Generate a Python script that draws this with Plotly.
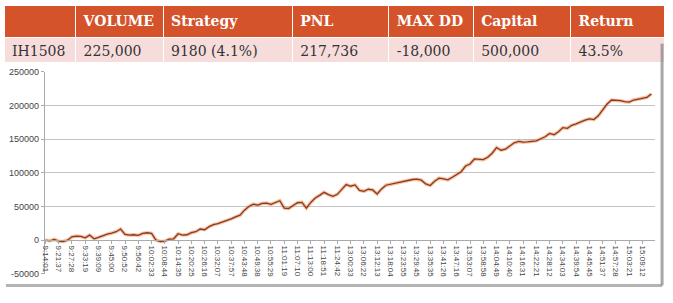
import plotly.graph_objects as go

# ---- table data ----
header_labels = ["", "VOLUME", "Strategy", "PNL", "MAX\u00a0DD", "Capital", "Return"]
row_values = ["IH1508", "225,000", "9180 (4.1%)", "217,736", "-18,000", "500,000", "43.5%"]

# ---- chart data ----
time_labels = [
    "9:14:01", "9:21:37", "9:27:28", "9:33:19", "9:39:09", "9:45:00", "9:50:52", "9:56:42",
    "10:02:33", "10:08:44", "10:14:35", "10:20:25", "10:26:16", "10:32:07", "10:37:57",
    "10:43:48", "10:49:38", "10:55:29", "11:01:19", "11:07:10", "11:13:00", "11:18:51",
    "11:24:42", "13:00:33", "13:06:22", "13:12:13", "13:18:04", "13:23:55", "13:29:45",
    "13:35:35", "13:41:26", "13:47:16", "13:53:07", "13:58:58", "14:04:49", "14:10:40",
    "14:16:31", "14:22:21", "14:28:12", "14:34:03", "14:39:54", "14:45:45", "14:51:37",
    "14:57:28", "15:03:21", "15:09:12",
]

# cumulative PNL, three samples per labelled interval
pnl = [
    0, -1000, 1000, -1500, -2000, 0, 5000, 6000, 5500, 3500,
    7500, 2000, 4000, 7000, 9000, 10500, 12500, 16500, 8500, 7500,
    8000, 7000, 10000, 11000, 10000, 0, -2000, -1500, 1500, 2000,
    9500, 7500, 8000, 11000, 12500, 16500, 15500, 20000, 23000, 24500,
    26500, 29500, 31500, 34500, 37000, 44500, 50000, 53500, 52000, 54500,
    55000, 53000, 56000, 58500, 47500, 47000, 51500, 55500, 56000, 47500,
    56000, 62500, 66500, 71000, 67500, 65000, 68000, 75500, 82500, 80000,
    82000, 74000, 72500, 75500, 74500, 68500, 76000, 81500, 83000, 84500,
    86500, 87500, 88500, 90000, 90500, 89000, 83500, 81000, 87500, 92000,
    91000, 89500, 93300, 97000, 101500, 110000, 113000, 120500, 120000, 119500,
    123000, 129000, 137500, 133500, 135000, 140000, 144500, 146500, 145500, 146000,
    146500, 147500, 150500, 153500, 158500, 156500, 161000, 167000, 166000, 170500,
    172500, 175500, 178000, 180000, 179000, 184500, 193000, 202000, 208000, 208000,
    207000, 205500, 205000, 208000, 209500, 210500, 212000, 217000,
]

y_tick_vals = [-50000, 0, 50000, 100000, 150000, 200000, 250000]
y_tick_text = ["-50000", "0", "50000", "100000", "150000", "200000", "250000"]

W, H = 673, 303
def px_x(x):
    return x / W
def px_y(y):
    return 1 - y / H

fig = go.Figure()

fig.add_trace(go.Table(
    domain=dict(x=[0, px_x(664)], y=[px_y(64), 1]),
    columnwidth=[72, 88, 130, 97, 85, 98, 94],
    header=dict(
        values=[f"<b>{h}</b>" if h else "" for h in header_labels],
        fill_color="#D4532A",
        line=dict(color="white", width=1),
        align="left",
        height=26,
        font=dict(family="DejaVu Serif", size=14, color="white"),
    ),
    cells=dict(
        values=[[v] for v in row_values],
        fill_color="#F7DCDC",
        line=dict(color="white", width=1),
        align="left",
        height=25,
        font=dict(family="DejaVu Serif", size=14, color="#333333"),
    ),
))

# halo
fig.add_trace(go.Scatter(
    y=pnl, x0=0, dx=1 / 3, mode="lines",
    line=dict(color="rgba(240,130,70,0.5)", width=3.5),
    hoverinfo="skip", showlegend=False,
))
# core line
fig.add_trace(go.Scatter(
    y=pnl, x0=0, dx=1 / 3, mode="lines",
    line=dict(color="#8A3A1C", width=1.3),
    showlegend=False,
))

fig.update_layout(
    width=W, height=H,
    margin=dict(l=0, r=0, t=0, b=0),
    paper_bgcolor="white",
    plot_bgcolor="white",
    xaxis=dict(
        domain=[px_x(41), px_x(655)],
        range=[-0.05, 45.95],
        anchor="free",
        position=px_y(243),
        tickmode="array",
        tickvals=list(range(len(time_labels))),
        ticktext=time_labels,
        tickangle=90,
        tickfont=dict(family="Liberation Sans", size=8, color="#444444"),
        showgrid=False,
        showline=True,
        linecolor="#AAAAAA",
        linewidth=1,
        ticks="outside",
        ticklen=3,
        tickcolor="#AAAAAA",
        zeroline=False,
    ),
    yaxis=dict(
        domain=[px_y(278), px_y(69)],
        range=[-50000, 250000],
        tickmode="array",
        tickvals=y_tick_vals,
        ticktext=y_tick_text,
        tickfont=dict(family="Liberation Sans", size=9, color="#444444"),
        showgrid=True,
        gridcolor="#C4C4C4",
        gridwidth=1,
        showline=True,
        linecolor="#AAAAAA",
        ticks="outside",
        ticklen=3,
        tickcolor="#AAAAAA",
        zeroline=False,
    ),
    shapes=[
        dict(type="line", xref="paper", yref="paper",
             x0=px_x(662), x1=px_x(662), y0=px_y(40), y1=px_y(290),
             line=dict(color="rgba(130,130,130,0.7)", width=3)),
        dict(type="line", xref="paper", yref="paper",
             x0=px_x(2), x1=px_x(662), y0=px_y(290), y1=px_y(290),
             line=dict(color="rgba(130,130,130,0.6)", width=3)),
    ],
)

fig.write_html("out.html")
